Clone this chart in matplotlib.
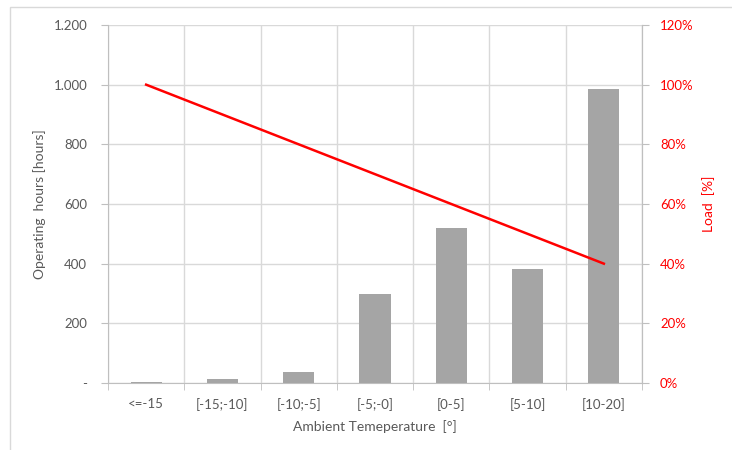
import matplotlib.pyplot as plt
import matplotlib.patches as mpatches
from matplotlib.ticker import FixedLocator, FuncFormatter

# Betriebsstunden und Last je Temperaturklasse
categories = ['<=-15', '[-15;-10]', '[-10;-5]', '[-5;-0]', '[0-5]', '[5-10]', '[10-20]']
hours = [4, 13, 37, 298, 518, 383, 985]
load = [100, 90, 80, 70, 60, 50, 40]

grey_txt = '#595959'
grid_c = '#D9D9D9'
axis_c = '#BFBFBF'

plt.rcParams['font.family'] = ['Lato', 'DejaVu Sans']

fig = plt.figure(figsize=(7.32, 4.5), dpi=100)
ax = fig.add_axes([108/732, 1 - 383/450, (642 - 108)/732, (383 - 25)/450])

x = list(range(len(categories)))
ax.bar(x, hours, width=0.41, color='#A5A5A5', zorder=3)
ax.set_xlim(-0.5, len(categories) - 0.5)
ax.set_ylim(0, 1200)
ax.set_yticks(range(0, 1201, 200))

def thousands(v, pos):
    if v == 0:
        return '-'
    return '{:,.0f}'.format(v).replace(',', '.')

ax.yaxis.set_major_formatter(FuncFormatter(thousands))

ax.set_xticks(x)
ax.set_xticklabels(categories)
ax.tick_params(axis='x', which='major', length=0, pad=11, labelsize=9.5, labelcolor=grey_txt)
ax.xaxis.set_minor_locator(FixedLocator([i - 0.5 for i in range(len(categories) + 1)]))
ax.tick_params(axis='x', which='minor', length=5, color=axis_c)
ax.tick_params(axis='y', length=5, color=axis_c, labelsize=9.5, labelcolor=grey_txt, pad=10)

ax.grid(axis='y', color=grid_c, lw=1, zorder=0)
ax.grid(axis='x', which='minor', color=grid_c, lw=1, zorder=0)

ax.spines['top'].set_visible(False)
for s in ['left', 'bottom', 'right']:
    ax.spines[s].set_color(axis_c)

ax.set_ylabel('Operating  hours [hours]', color=grey_txt, fontsize=10, labelpad=5)
ax.set_xlabel('Ambient Temeperature  [°]', color=grey_txt, fontsize=10, labelpad=6)

ax2 = ax.twinx()
ax2.plot(x, load, color='#FF0000', lw=1.8, zorder=4)
ax2.set_ylim(0, 120)
ax2.set_yticks(range(0, 121, 20))
ax2.yaxis.set_major_formatter(FuncFormatter(lambda v, p: '{:.0f}%'.format(v)))
ax2.tick_params(axis='y', length=5, color=axis_c, labelsize=9.5, labelcolor='#FF0000', pad=8)
ax2.spines['top'].set_visible(False)
ax2.spines['right'].set_color(axis_c)
ax2.spines['left'].set_visible(False)
ax2.spines['bottom'].set_visible(False)
ax2.set_ylabel('Load  [%]', color='#FF0000', fontsize=10, labelpad=6)

# Rahmen um das Diagramm
frame = mpatches.Rectangle((10/732, -0.1), 1.0, 1.1 - 7/450, transform=fig.transFigure,
                           fill=False, edgecolor=grid_c, lw=1)
fig.patches.append(frame)

fig.savefig('out.png', dpi=100)
